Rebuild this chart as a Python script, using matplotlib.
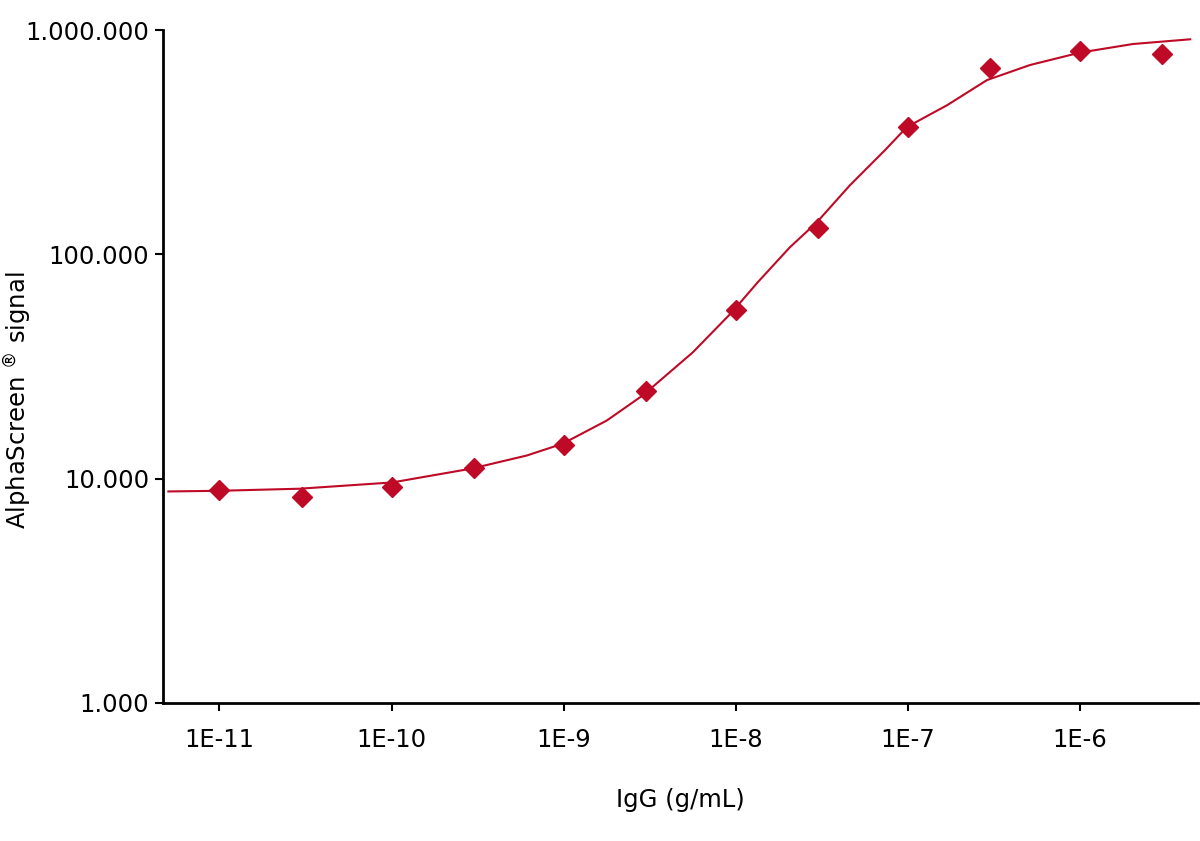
import matplotlib
matplotlib.use("Agg")
import matplotlib.pyplot as plt
from matplotlib.ticker import FixedLocator, NullLocator

plt.rcParams['font.family'] = ['DejaVu Sans']

# measured points (IgG g/mL vs AlphaScreen signal)
igg_conc = [1e-11, 3e-11, 1e-10, 3e-10, 1e-9, 3e-9, 1e-8, 3e-8, 1e-7, 3e-7, 1e-6, 3e-6]
signal = [8930, 8320, 9200, 11200, 14200, 24700, 56200, 130600, 369000, 676000, 806000, 782000]

# fitted curve
curve_x = [5.05e-12, 1.0e-11, 2.92e-11, 1.01e-10, 2.92e-10, 6.10e-10, 9.86e-10, 1.78e-9,
           2.88e-9, 5.62e-9, 9.48e-9, 1.34e-8, 2.06e-8, 2.96e-8, 4.60e-8, 7.35e-8,
           9.86e-8, 1.29e-7, 1.69e-7, 2.88e-7, 5.12e-7, 1.0e-6, 2.03e-6, 4.37e-6]
curve_y = [8770, 8830, 9020, 9620, 11090, 12680, 14310, 18160,
           23500, 36520, 55100, 75000, 107400, 139000, 203000, 291000,
           369000, 413000, 462000, 598000, 698000, 793000, 866000, 909000]

x_ticks = [1e-11, 1e-10, 1e-9, 1e-8, 1e-7, 1e-6]
x_labels = ['1E-11', '1E-10', '1E-9', '1E-8', '1E-7', '1E-6']
y_ticks = [1e3, 1e4, 1e5, 1e6]
y_labels = ['1.000', '10.000', '100.000', '1.000.000']

red = '#BE0A26'

fig = plt.figure(figsize=(12, 8.41), dpi=100)
ax = fig.add_axes([163 / 1200, 1 - 703 / 841, (1198 - 163) / 1200, (703 - 30) / 841])

ax.plot(curve_x, curve_y, color=red, lw=1.5, zorder=2)
ax.plot(igg_conc, signal, linestyle='none', marker='D', ms=10.5, color=red, zorder=3)

ax.set_xscale('log')
ax.set_yscale('log')
ax.set_xlim(4.7e-12, 4.85e-6)
ax.set_ylim(1e3, 1e6)

ax.xaxis.set_major_locator(FixedLocator(x_ticks))
ax.xaxis.set_minor_locator(NullLocator())
ax.set_xticklabels(x_labels)
ax.yaxis.set_major_locator(FixedLocator(y_ticks))
ax.yaxis.set_minor_locator(NullLocator())
ax.set_yticklabels(y_labels)

for side in ['top', 'right']:
    ax.spines[side].set_visible(False)
for side in ['left', 'bottom']:
    ax.spines[side].set_linewidth(2)

ax.tick_params(axis='both', direction='out', length=6, width=1.5, labelsize=17.5, colors='black')
ax.tick_params(axis='x', pad=12)
ax.tick_params(axis='y', pad=4)

ax.set_xlabel('IgG (g/mL)', fontsize=17.5, labelpad=26)
ax.set_ylabel(r'AlphaScreen $^{\circledR}$ signal', fontsize=17.5)
ax.yaxis.set_label_coords(-0.125, 0.45)

fig.savefig('out.png', dpi=100)
